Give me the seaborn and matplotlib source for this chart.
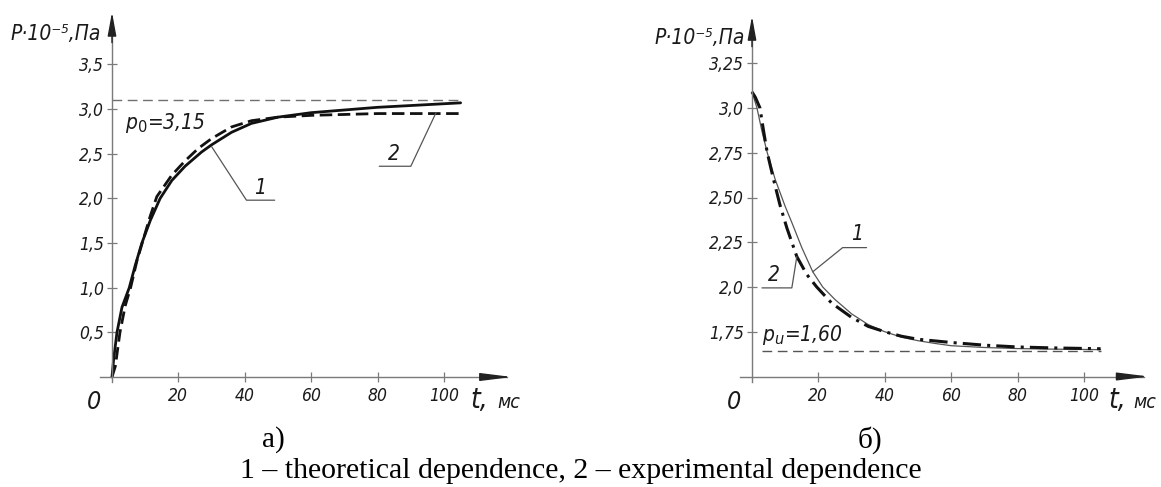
import matplotlib
matplotlib.use("Agg")
import matplotlib.pyplot as plt
import pandas as pd
import seaborn as sns

# ---------------- data: panel a) ----------------
t_a_theor = [0, 0.5, 1.5, 3, 5.2, 7, 9, 11.5, 14.5, 18, 22, 27, 30, 36, 42, 50, 60, 70, 80, 90, 105]
p_a_theor = [0, 0.2, 0.5, 0.78, 1.0, 1.25, 1.5, 1.75, 2.0, 2.2, 2.36, 2.52, 2.6, 2.74, 2.84, 2.91, 2.96, 2.99, 3.02, 3.04, 3.07]
t_a_exp = [0, 1, 2.4, 4, 5.6, 7.5, 9.5, 11.5, 13.5, 18, 22, 26, 30, 36, 42, 50, 60, 70, 80, 90, 105]
p_a_exp = [0, 0.12, 0.5, 0.8, 1.0, 1.3, 1.55, 1.8, 2.02, 2.26, 2.42, 2.56, 2.67, 2.8, 2.87, 2.91, 2.93, 2.94, 2.95, 2.95, 2.95]
p0_level = 3.1
a_ref_t = [0, 105]
a_yticks = [0.5, 1.0, 1.5, 2.0, 2.5, 3.0, 3.5]
a_ylabels = ["0,5", "1,0", "1,5", "2,0", "2,5", "3,0", "3,5"]

# ---------------- data: panel б) ----------------
t_b_theor = [0, 1.5, 3, 4.6, 7, 10, 12, 15, 18.3, 21.3, 25, 30, 35, 40, 45, 50, 55, 60, 70, 80, 90, 105]
p_b_theor = [3.09, 3.0, 2.87, 2.75, 2.6, 2.45, 2.36, 2.22, 2.085, 2.0, 1.93, 1.85, 1.79, 1.75, 1.72, 1.70, 1.685, 1.672, 1.662, 1.656, 1.653, 1.65]
t_b_exp = [0, 1, 2.4, 3.5, 4.6, 6.5, 8.4, 10.5, 13.5, 16.5, 19.5, 24, 30, 35, 40, 45, 50, 60, 70, 80, 90, 105]
p_b_exp = [3.09, 3.06, 3.0, 2.87, 2.75, 2.6, 2.46, 2.33, 2.17, 2.07, 2.0, 1.91, 1.83, 1.78, 1.75, 1.725, 1.708, 1.69, 1.675, 1.665, 1.66, 1.655]
pu_level = 1.64
b_ref_t = [3, 105]
b_yticks = [1.75, 2.0, 2.25, 2.5, 2.75, 3.0, 3.25]
b_ylabels = ["1,75", "2,0", "2,25", "2,50", "2,75", "3,0", "3,25"]

xticks = [20, 40, 60, 80, 100]
xlabels = ["20", "40", "60", "80", "100"]

sns.set_theme(style="white")
plt.rcParams["font.family"] = ["DejaVu Sans"]

W, H = 1161, 487
fig = plt.figure(figsize=(W / 100, H / 100), dpi=100)
fig.patch.set_facecolor("white")

AX = "#7a7a7a"
TXT = "#1a1a1a"
TF = dict(family="DejaVu Sans", style="italic", stretch="condensed", color=TXT)


def px_axes(x0, x1, y0, y1):
    return fig.add_axes([x0 / W, 1 - y1 / H, (x1 - x0) / W, (y1 - y0) / H])


def setup(ax, xlim, ylim, y0, ytop, xright, yticks, ylabels):
    ax.set_xlim(*xlim)
    ax.set_ylim(*ylim)
    ax.set_facecolor("none")
    for s in ["top", "right"]:
        ax.spines[s].set_visible(False)
    ax.spines["left"].set_position(("data", 0))
    ax.spines["bottom"].set_position(("data", y0))
    ax.spines["left"].set_bounds(ylim[0] + 0.02 * (ylim[1] - ylim[0]), ytop)
    ax.spines["bottom"].set_bounds(-3.5, xright)
    for s in ["left", "bottom"]:
        ax.spines[s].set_color(AX)
        ax.spines[s].set_linewidth(1.0)
    ax.set_xticks(xticks)
    ax.set_xticklabels(xlabels)
    ax.set_yticks(yticks)
    ax.set_yticklabels(ylabels)
    ax.tick_params(axis="both", direction="inout", length=7, width=0.9, color=AX,
                   labelsize=12.5, labelcolor=TXT, left=True, bottom=True)
    ax.tick_params(axis="y", pad=2)
    ax.tick_params(axis="x", pad=4)
    for lab in ax.get_xticklabels() + ax.get_yticklabels():
        lab.set_fontstyle("italic")
        lab.set_fontstretch("condensed")
    ax.set_xlabel("")
    ax.set_ylabel("")
    # arrow heads
    ax.annotate("", xy=(0, ytop + 0.02 * (ylim[1] - ylim[0])), xytext=(0, ytop - 0.06 * (ylim[1] - ylim[0])),
                arrowprops=dict(arrowstyle="-|>,head_length=1.2,head_width=0.22", color="#222222", lw=1.0,
                                shrinkA=0, shrinkB=0))
    ax.annotate("", xy=(xright + 1.5, y0), xytext=(xright - 8, y0),
                arrowprops=dict(arrowstyle="-|>,head_length=1.6,head_width=0.2", color="#222222", lw=1.0,
                                shrinkA=0, shrinkB=0))


# ---------- panel a ----------
axa = px_axes(100, 530, 10, 390)
xa = ((100 - 112) / 3.32, (530 - 112) / 3.32)
ya = (-(390 - 377) / 89.3, (377 - 10) / 89.3)
setup(axa, xa, ya, 0, 4.0, 119, a_yticks, a_ylabels)

df_a1 = pd.DataFrame({"t": t_a_theor, "p": p_a_theor})
df_a2 = pd.DataFrame({"t": t_a_exp, "p": p_a_exp})
axa.plot(a_ref_t, [p0_level, p0_level], color="#707070", lw=1.0, dashes=(7, 4))
sns.lineplot(data=df_a1, x="t", y="p", ax=axa, color="#111111", lw=2.0, sort=False)
l2 = sns.lineplot(data=df_a2, x="t", y="p", ax=axa, color="#111111", lw=2.0, sort=False).lines[-1]
l2.set_dashes((4.5, 2))
axa.set_xlabel("")
axa.set_ylabel("")

axa.text(4, 2.84, "p$_0$=3,15", fontsize=15, va="center", ha="left", **TF)
# leaders
axa.plot([30, 40.5, 49], [2.58, 1.98, 1.98], color="#555555", lw=0.9)
axa.text(44.7, 2.0, "1", fontsize=15, ha="center", va="bottom", **TF)
axa.plot([97.6, 90, 80.5], [2.96, 2.36, 2.36], color="#555555", lw=0.9)
axa.text(85, 2.38, "2", fontsize=15, ha="center", va="bottom", **TF)

# ---------- panel b ----------
axb = px_axes(740, 1160, 10, 390)
xb = ((740 - 752) / 3.32, (1160 - 752) / 3.32)
yb = (1.5 + (376.5 - 390) / 179, 1.5 + (376.5 - 10) / 179)
setup(axb, xb, yb, 1.5, 3.47, 118, b_yticks, b_ylabels)

df_b1 = pd.DataFrame({"t": t_b_theor, "p": p_b_theor})
df_b2 = pd.DataFrame({"t": t_b_exp, "p": p_b_exp})
axb.plot(b_ref_t, [pu_level, pu_level], color="#555555", lw=1.0, dashes=(7, 4))
sns.lineplot(data=df_b1, x="t", y="p", ax=axb, color="#555555", lw=0.9, sort=False)
l4 = sns.lineplot(data=df_b2, x="t", y="p", ax=axb, color="#111111", lw=2.2, sort=False).lines[-1]
l4.set_dashes((6, 2, 1, 2))
axb.set_xlabel("")
axb.set_ylabel("")

axb.text(3, 1.73, "p$_u$=1,60", fontsize=15, va="center", ha="left", **TF)
axb.plot([18.3, 27.3, 34.5], [2.085, 2.22, 2.22], color="#555555", lw=0.9)
axb.text(31.5, 2.24, "1", fontsize=15, ha="center", va="bottom", **TF)
axb.plot([13.5, 12, 3], [2.17, 1.995, 1.995], color="#555555", lw=0.9)
axb.text(6.7, 2.01, "2", fontsize=15, ha="center", va="bottom", **TF)

# ---------- axis titles / origin labels (figure pixel coordinates) ----------
def ftext(x, y, s, **kw):
    fig.text(x / W, 1 - y / H, s, **kw)

ftext(10, 34, "P·10⁻⁵,Па", fontsize=15, ha="left", va="center", **TF)
ftext(654, 38, "P·10⁻⁵,Па", fontsize=15, ha="left", va="center", **TF)
ftext(94, 402, "0", fontsize=18, ha="center", va="center", **TF)
ftext(734, 402, "0", fontsize=18, ha="center", va="center", **TF)
ftext(470, 400, "t,", fontsize=20, ha="left", va="center", **TF)
ftext(497, 402, "мс", fontsize=14, ha="left", va="center", **TF)
ftext(1108, 400, "t,", fontsize=20, ha="left", va="center", **TF)
ftext(1133, 402, "мс", fontsize=14, ha="left", va="center", **TF)

SERIF = dict(family="Liberation Serif", color="#000000")
ftext(273, 440, "а)", fontsize=21, ha="center", va="center", **SERIF)
ftext(870, 440, "б)", fontsize=21, ha="center", va="center", **SERIF)
ftext(581, 471, "1 – theoretical dependence, 2 – experimental dependence", fontsize=21.5,
      ha="center", va="center", **SERIF)

fig.savefig("out.png", dpi=100, facecolor="white")
